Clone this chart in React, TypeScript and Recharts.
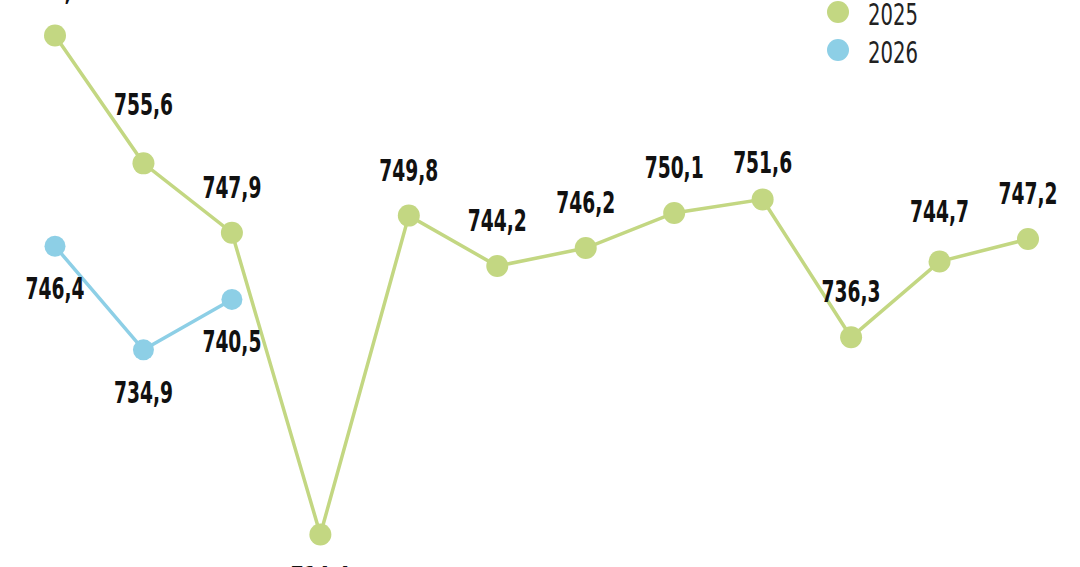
import { LineChart, Line, XAxis, YAxis, LabelList } from "recharts";

const months = ["Jan", "Feb", "Mar", "Apr", "May", "Jun", "Jul", "Aug", "Sep", "Oct", "Nov", "Dec"];
const values2025 = [769.8, 755.6, 747.9, 714.4, 749.8, 744.2, 746.2, 750.1, 751.6, 736.3, 744.7, 747.2];
const values2026: (number | null)[] = [746.4, 734.9, 740.5, null, null, null, null, null, null, null, null, null];
const seriesNames = ["2025", "2026"];

const GREEN = "#c3d782";
const BLUE = "#8dcfe6";

const data = months.map((m, i) => ({ month: m, y2025: values2025[i], y2026: values2026[i] }));

const fmt = (v: number) => v.toFixed(1).replace(".", ",");

// small nudges so labels clear the line, like the original
const nudge2025: Record<number, number> = { 1: -13, 8: 9, 10: -5 };

function makeLabel(below: (i: number) => boolean, nudge: Record<number, number> = {}) {
  return (props: any) => {
    const { x, y, value, index } = props;
    if (value == null) return null;
    const dy = (below(index) ? 42 : -46) + (nudge[index] ?? 0);
    return (
      <text
        x={x}
        y={y + dy}
        textAnchor="middle"
        dominantBaseline="central"
        fontFamily="'Liberation Sans Narrow', 'DejaVu Sans Condensed', sans-serif"
        fontWeight="bold"
        fontSize={31}
        textLength={59}
        lengthAdjust="spacingAndGlyphs"
        fill="#111"
      >
        {fmt(value)}
      </text>
    );
  };
}

const minIdx = values2025.indexOf(Math.min(...values2025));

function LegendBox() {
  const colors = [GREEN, BLUE];
  return (
    <svg width={120} height={70} style={{ position: "absolute", left: 827, top: 0 }}>
      {seriesNames.map((n, i) => (
        <g key={n}>
          <circle cx={11} cy={12 + i * 38} r={11} fill={colors[i]} />
          <text
            x={41}
            y={14 + i * 38}
            dominantBaseline="central"
            fontFamily="'Liberation Sans Narrow', 'DejaVu Sans Condensed', sans-serif"
            fontSize={31}
            textLength={50}
            lengthAdjust="spacingAndGlyphs"
            fill="#222"
          >
            {n}
          </text>
        </g>
      ))}
    </svg>
  );
}

export default function App() {
  return (
    <div style={{ position: "absolute", left: 0, top: 0, width: 1080, height: 567, background: "#fff" }}>
      <LineChart width={1080} height={567} data={data} margin={{ top: 0, right: 52, left: 55, bottom: 0 }}>
        <XAxis dataKey="month" hide />
        <YAxis hide domain={[710.8, 773.73]} allowDataOverflow />
        <Line
          dataKey="y2025"
          name={seriesNames[0]}
          stroke={GREEN}
          strokeWidth={3.5}
          dot={{ r: 11, fill: GREEN, stroke: "none" }}
          activeDot={false}
          isAnimationActive={false}
        >
          <LabelList dataKey="y2025" content={makeLabel((i) => i === minIdx, nudge2025)} />
        </Line>
        <Line
          dataKey="y2026"
          name={seriesNames[1]}
          stroke={BLUE}
          strokeWidth={3.5}
          dot={{ r: 10.5, fill: BLUE, stroke: "none" }}
          activeDot={false}
          connectNulls={false}
          isAnimationActive={false}
        >
          <LabelList dataKey="y2026" content={makeLabel(() => true)} />
        </Line>
      </LineChart>
      <LegendBox />
    </div>
  );
}
